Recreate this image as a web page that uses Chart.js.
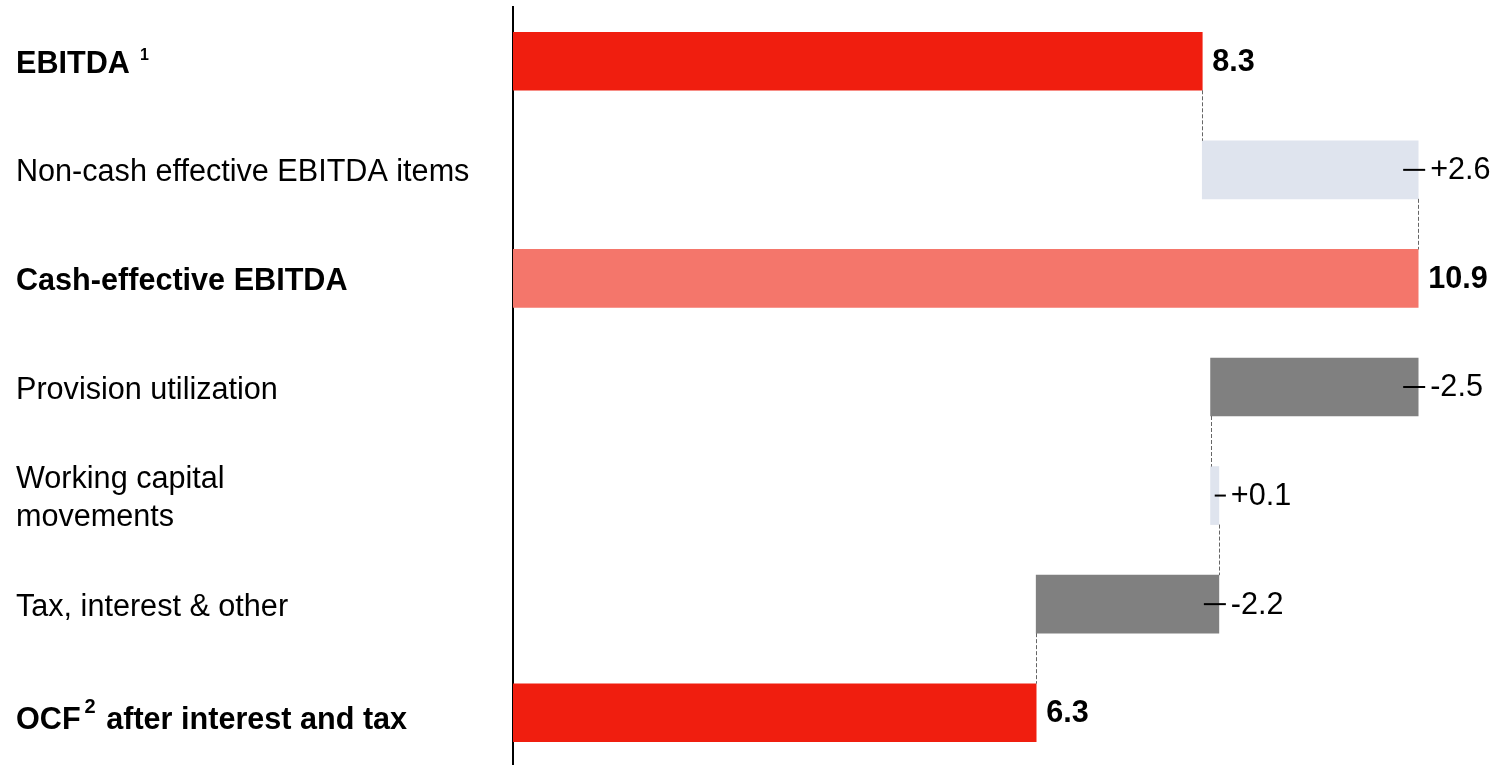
<!DOCTYPE html>
<html>
<head>
<meta charset="utf-8">
<script src="https://cdn.jsdelivr.net/npm/chart.js@4/dist/chart.umd.min.js"></script>
<style>
  html, body { margin: 0; padding: 0; background: #fff; overflow: hidden; }
  #wrap { position: relative; width: 1497px; height: 767px; }
</style>
</head>
<body>
<div id="wrap"><canvas id="bridge"></canvas></div>
<script>
// --- Данные: переход от EBITDA к OCF ---
const categories = [
    'EBITDA',
    'Non-cash effective EBITDA items',
    'Cash-effective EBITDA',
    'Provision utilization',
    ['Working capital', 'movements'],
    'Tax, interest & other',
    'OCF after interest and tax',
];
// сноски: после какого слова ставится верхний индекс
const footnotes = [
    { after: 'EBITDA', mark: '1', gap: 10, size: 16, rise: 2 },
    null, null, null, null, null,
    { after: 'OCF', mark: '2', gap: 4, size: 20, rise: 9 },
];
const values = [8.3, 2.6, 10.9, -2.5, 0.1, -2.2, 6.3];
const isTotal = [true, false, true, false, false, false, true];
const barColors = ['#f01e0f', '#dfe4ee', '#f4766b', '#808080', '#dfe4ee', '#808080', '#f01e0f'];
// пунктирные связки: от бара i к бару i+1
const connectors = [0, 1, 3, 4, 5];

// диапазоны для плавающих баров
const ranges = [];
const runningTotals = [];
let run = 0;
values.forEach((v, i) => {
    if (isTotal[i]) {
        ranges.push([0, v]);
        run = v;
    } else {
        ranges.push([run, run + v]);
        run = run + v;
    }
    runningTotals.push(run);
});

const FONT = '"Liberation Sans", Arial, sans-serif';
const FONT_SIZE = 30.6;
const LINE_H = 38.5;
const labelNudge = [0, 0, 0, 0, 0, 0, 5];

// --- Подписи категорий (с верхними индексами) ---
const categoryLabelsPlugin = {
    id: 'categoryLabels',
    afterDraw(chart) {
        const ctx = chart.ctx;
        const ys = chart.scales.y;
        const left = chart.options.layout.padding.left;

        ctx.save();
        ctx.fillStyle = '#000';
        ctx.textAlign = 'left';
        ctx.textBaseline = 'alphabetic';
        categories.forEach((label, i) => {
            const y = ys.getPixelForTick(i) + labelNudge[i];
            const font = (isTotal[i] ? 'bold ' : '') + FONT_SIZE + 'px ' + FONT;
            ctx.font = font;
            const lines = Array.isArray(label) ? label : [label];
            const y0 = y - (lines.length - 1) * LINE_H / 2;
            lines.forEach((line, k) => {
                // базовая линия: центр строки + половина высоты прописных
                const base = y0 + k * LINE_H + 11.5;
                const fn = footnotes[i];
                if (fn && line.startsWith(fn.after)) {
                    const head = fn.after;
                    const tail = line.slice(head.length);
                    ctx.fillText(head, left, base);
                    let x = left + ctx.measureText(head).width + fn.gap;
                    ctx.font = 'bold ' + fn.size + 'px ' + FONT;
                    const capTop = base - 22;
                    ctx.fillText(fn.mark, x, capTop - fn.rise + fn.size * 0.716);
                    x += ctx.measureText(fn.mark).width;
                    ctx.font = font;
                    ctx.fillText(tail, x + 2, base);
                } else {
                    ctx.fillText(line, left, base);
                }
            });
        });
        ctx.restore();
    }
};

// --- Подписи значений и пунктирные связки ---
const bridgePlugin = {
    id: 'bridge',
    afterDatasetsDraw(chart) {
        const ctx = chart.ctx;
        const xs = chart.scales.x;
        const bars = chart.getDatasetMeta(0).data;

        ctx.save();
        // связки
        ctx.strokeStyle = '#666';
        ctx.lineWidth = 1;
        ctx.setLineDash([4, 2]);
        connectors.forEach(i => {
            const a = bars[i], b = bars[i + 1];
            const x = Math.round(xs.getPixelForValue(runningTotals[i])) + 0.5;
            ctx.beginPath();
            ctx.moveTo(x, a.y + a.height / 2);
            ctx.lineTo(x, b.y - b.height / 2);
            ctx.stroke();
        });
        ctx.setLineDash([]);

        // подписи
        ctx.textBaseline = 'middle';
        ctx.textAlign = 'left';
        ctx.fillStyle = '#000';
        bars.forEach((bar, i) => {
            const r = ranges[i];
            const endPx = xs.getPixelForValue(Math.max(r[0], r[1]));
            const startPx = xs.getPixelForValue(Math.min(r[0], r[1]));
            const y = bar.y;
            if (isTotal[i]) {
                ctx.font = 'bold ' + FONT_SIZE + 'px ' + FONT;
                ctx.fillText(values[i].toFixed(1), endPx + 10, y + 1);
            } else {
                const w = endPx - startPx;
                ctx.strokeStyle = '#000';
                ctx.lineWidth = 2;
                ctx.beginPath();
                ctx.moveTo(endPx - Math.min(15, w * 0.5), y);
                ctx.lineTo(endPx + 7, y);
                ctx.stroke();
                ctx.font = FONT_SIZE + 'px ' + FONT;
                const txt = (values[i] > 0 ? '+' : '') + values[i].toFixed(1);
                ctx.fillText(txt, endPx + 12, y + 1);
            }
        });
        ctx.restore();
    }
};

new Chart(document.getElementById('bridge'), {
    type: 'bar',
    data: {
        labels: categories,
        datasets: [{
            data: ranges,
            backgroundColor: barColors,
            borderWidth: 0,
            barThickness: 58,
        }]
    },
    options: {
        indexAxis: 'y',
        responsive: true,
        maintainAspectRatio: false,
        animation: false,
        layout: { padding: { left: 16, right: 29, top: 7, bottom: 0 } },
        plugins: {
            legend: { display: false },
            tooltip: { enabled: false }
        },
        scales: {
            x: {
                display: false,
                min: 0,
                max: 11.5,
            },
            y: {
                grid: { display: false, drawTicks: false },
                border: { display: true, color: '#000', width: 2 },
                afterFit: scale => {
                    scale.width = 497;
                    scale.paddingTop = 0;
                    scale.paddingBottom = 0;
                },
                // подписи рисует categoryLabelsPlugin
                ticks: { display: false }
            }
        }
    },
    plugins: [bridgePlugin, categoryLabelsPlugin]
});
</script>
</body>
</html>
